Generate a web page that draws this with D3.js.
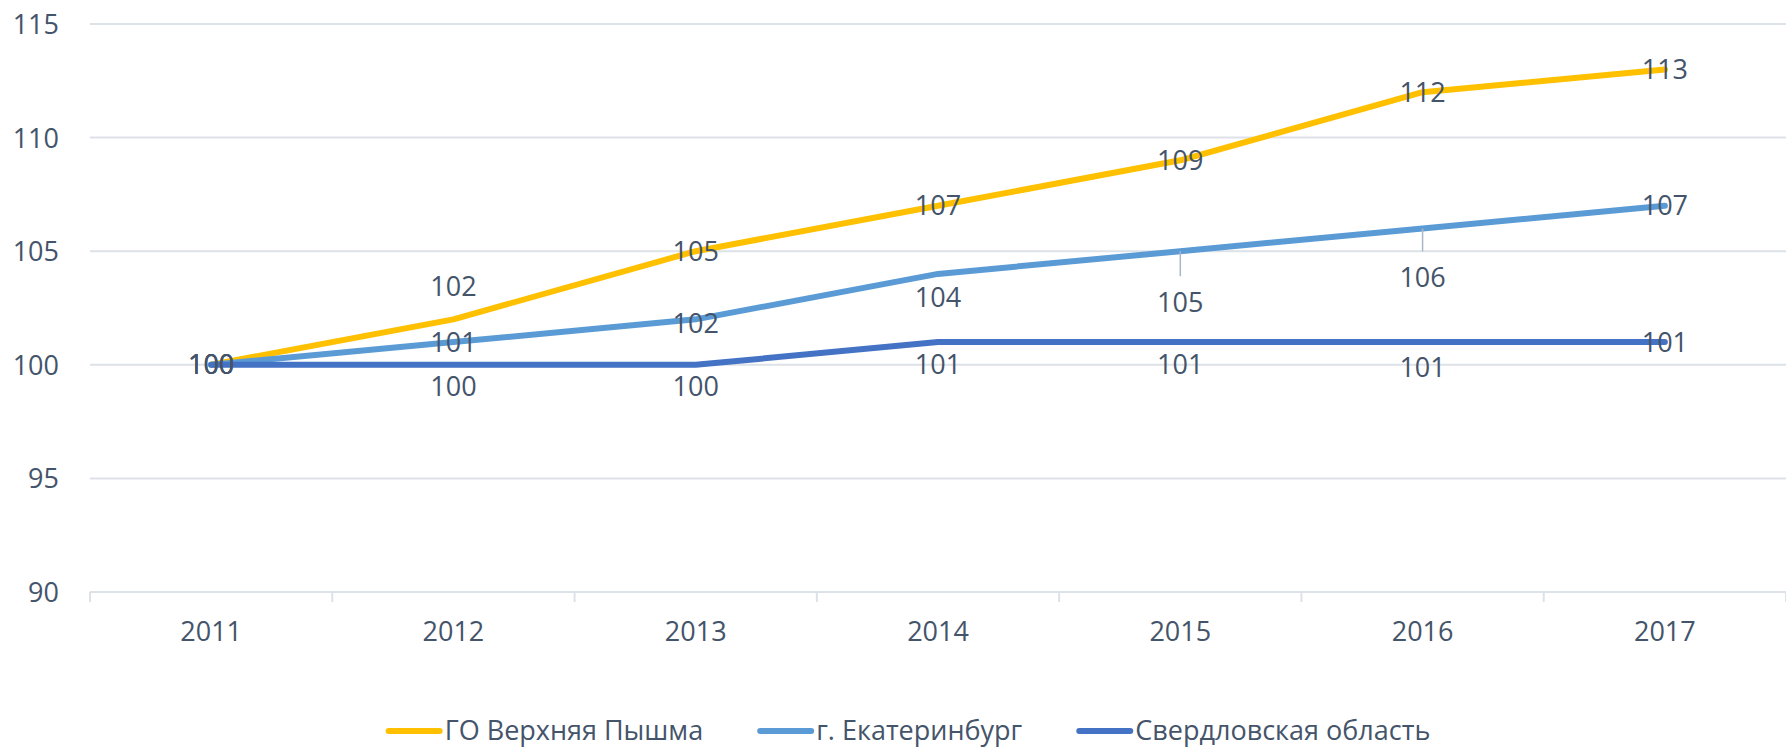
<!DOCTYPE html>
<html>
<head>
<meta charset="utf-8">
<script src="https://cdn.jsdelivr.net/npm/d3@7/dist/d3.min.js"></script>
<style>
	body { margin: 0; background: #fff; }
	text { font-family: "Open Sans", "Noto Sans", sans-serif; fill: #44546A; }
</style>
</head>
<body>
<svg id="chart" width="1786" height="752"></svg>
<script>
const years = ["2011", "2012", "2013", "2014", "2015", "2016", "2017"];
const yTicks = [90, 95, 100, 105, 110, 115];
const seriesNames = ["ГО Верхняя Пышма", "г. Екатеринбург", "Свердловская область"];
const pyshma = [100, 102, 105, 107, 109, 112, 113];
const ekb = [100, 101, 102, 104, 105, 106, 107];
const oblast = [100, 100, 100, 101, 101, 101, 101];

// where each data label sits relative to its point (px, down is positive)
const labelShift = [
	[0, -33, 0, 0, 0, 0, 0],
	[0, 0, 4, 24, 51, 49, 0],
	[0, 22, 22, 22, 22, 25, 0]
];
const leaderAt = [[], [4, 5], []];
const colors = ["#FFC000", "#5B9BD5", "#4472C4"];

const d3v = window.d3,
	width = 1786,
	height = 752,
	margin = { top: 24, right: 0, bottom: 160, left: 90 },
	fontSize = 27,
	gridColor = "#DDE2E9";

const svg = d3v.select("#chart");

const x = d3v.scaleBand()
	.domain(years)
	.range([margin.left, width - margin.right]);

const y = d3v.scaleLinear()
	.domain([90, 115])
	.range([height - margin.bottom, margin.top]);

// gridlines
svg.append("g")
	.selectAll("line")
	.data(yTicks)
	.join("line")
	.attr("x1", margin.left)
	.attr("x2", width - margin.right)
	.attr("y1", d => y(d))
	.attr("y2", d => y(d))
	.attr("stroke", gridColor)
	.attr("stroke-width", 2);

// y axis labels
const yAxis = svg.append("g")
	.attr("transform", `translate(${margin.left},0)`)
	.call(d3v.axisLeft(y).tickValues(yTicks).tickSize(0).tickPadding(31));
yAxis.select(".domain").remove();
yAxis.selectAll("text")
	.attr("font-size", fontSize)
	.attr("dy", "0.35em")
	.attr("fill", null)
	.style("font-family", null);

// x axis: tick marks on band boundaries, labels centered in bands
const bounds = years.map(d => x(d)).concat([x.range()[1]]);
svg.append("g")
	.selectAll("line")
	.data(bounds)
	.join("line")
	.attr("x1", d => d)
	.attr("x2", d => d)
	.attr("y1", y(90))
	.attr("y2", y(90) + 10)
	.attr("stroke", gridColor)
	.attr("stroke-width", 2);

const xAxis = svg.append("g")
	.attr("transform", `translate(0,${y(90)})`)
	.call(d3v.axisBottom(x).tickSize(0).tickPadding(0));
xAxis.select(".domain").remove();
xAxis.selectAll("text")
	.attr("font-size", fontSize)
	.attr("y", 40)
	.attr("dy", "0.35em")
	.attr("fill", null)
	.style("font-family", null);

// lines
const allSeries = [pyshma, ekb, oblast];
const cx = i => x(years[i]) + x.bandwidth() / 2;
const line = d3v.line()
	.x((d, i) => cx(i))
	.y(d => y(d));

svg.append("g")
	.selectAll("path")
	.data(allSeries)
	.join("path")
	.attr("fill", "none")
	.attr("stroke", (d, i) => colors[i])
	.attr("stroke-width", 6)
	.attr("stroke-linejoin", "round")
	.attr("stroke-linecap", "round")
	.attr("d", line);

// leader lines
allSeries.forEach((values, s) => {
	leaderAt[s].forEach(i => {
		svg.append("line")
			.attr("x1", cx(i))
			.attr("x2", cx(i))
			.attr("y1", y(values[i]))
			.attr("y2", y(values[i]) + labelShift[s][i] - 26)
			.attr("stroke", "#A9B6C6")
			.attr("stroke-width", 1.5);
	});
});

// data labels
allSeries.forEach((values, s) => {
	svg.append("g")
		.selectAll("text")
		.data(values)
		.join("text")
		.attr("x", (d, i) => cx(i))
		.attr("y", (d, i) => y(d) + labelShift[s][i])
		.attr("dy", "0.35em")
		.attr("text-anchor", "middle")
		.attr("font-size", fontSize)
		.text(d => d);
});

// legend
const legend = svg.append("g");
const items = legend.selectAll("g")
	.data(seriesNames)
	.join("g");
items.append("line")
	.attr("x1", 3)
	.attr("x2", 54)
	.attr("stroke", (d, i) => colors[i])
	.attr("stroke-width", 6)
	.attr("stroke-linecap", "round");
items.append("text")
	.attr("x", 59)
	.attr("dy", "0.35em")
	.attr("font-size", fontSize)
	.text(d => d);

let offset = 0;
const widths = [];
items.each(function() {
	const w = 59 + this.querySelector("text").getComputedTextLength();
	widths.push(w);
});
const gap = 54;
const total = d3v.sum(widths) + gap * (widths.length - 1);
let start = 908 - total / 2;
items.attr("transform", (d, i) => {
	const t = `translate(${start + offset},731)`;
	offset += widths[i] + gap;
	return t;
});
</script>
</body>
</html>
